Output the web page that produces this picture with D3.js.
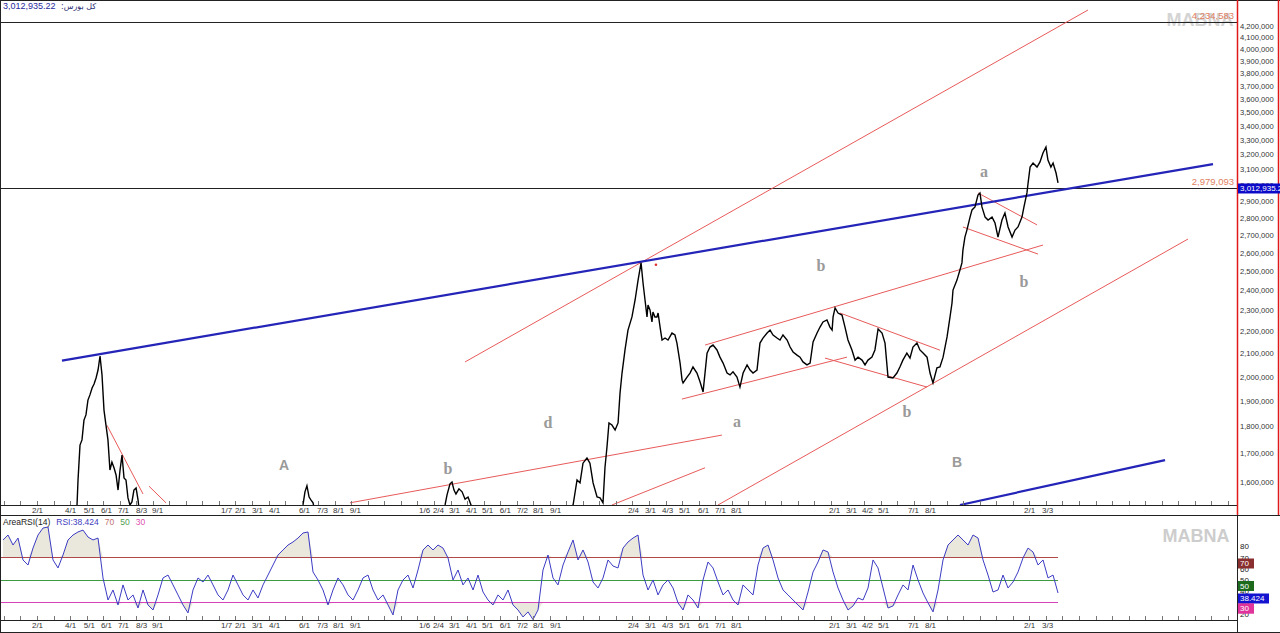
<!DOCTYPE html>
<html><head><meta charset="utf-8">
<script src="https://cdn.jsdelivr.net/npm/d3@7"></script>
<style>body{margin:0;background:#fff;overflow:hidden}svg{display:block}</style>
</head><body>
<svg id="c" width="1280" height="633"></svg>
<script>
// ---------------- DATA ----------------
const indexName = "کل بورس";
const lastValueText = "3,012,935.22";
// months since Farvardin 1399 (fractional), and TEDPIX values
const priceMonth = [
 -1.24,-0.5,0.3,1.0,1.8,2.5,3.0,3.3,3.42,3.48,
 3.60,3.72,3.84,3.96,4.08,4.20,4.33,4.45,4.57,4.69,
 4.81,4.93,5.05,5.17,5.29,5.41,5.53,5.66,5.78,5.90,
 6.02,6.14,6.26,6.38,6.50,6.62,6.74,6.86,6.99,7.11,
 7.23,7.6,8.0,8.5,9.0,9.5,10.0,10.5,11.0,11.5,
 12.3,13.0,13.8,14.5,15.2,16.0,16.6,17.08,17.20,17.32,
 17.45,17.57,17.69,17.85,18.6,19.3,20.0,20.8,21.5,22.3,
 23.0,23.8,24.5,25.3,25.67,25.79,25.97,26.09,26.21,26.33,
 26.51,26.70,26.88,27.06,27.24,27.6,28.2,28.9,29.6,30.3,
 31.0,31.8,32.5,33.1,33.41,33.65,33.83,34.01,34.25,34.43,
 34.62,34.86,35.04,35.22,35.34,35.46,35.58,35.76,35.95,36.13,
 36.25,36.37,36.55,36.73,36.97,37.16,37.34,37.52,37.64,37.76,
 37.88,37.94,38.06,38.18,38.24,38.36,38.48,38.55,38.67,38.79,
 38.97,39.15,39.39,39.57,39.69,39.88,40.00,40.06,40.30,40.48,
 40.66,40.90,41.09,41.27,41.51,41.69,41.87,42.11,42.29,42.48,
 42.72,42.90,43.08,43.32,43.50,43.69,43.93,44.11,44.29,44.53,
 44.71,44.89,45.14,45.32,45.50,45.74,45.92,46.10,46.35,46.53,
 46.71,46.95,47.13,47.31,47.55,47.74,47.92,48.16,48.34,48.52,
 48.76,48.94,49.07,49.13,49.25,49.43,49.67,49.85,50.03,50.27,
 50.46,50.64,50.88,51.06,51.24,51.48,51.66,51.85,52.09,52.27,
 52.45,52.75,52.99,53.17,53.35,53.59,53.78,53.96,54.20,54.38,
 54.57,54.81,54.99,55.17,55.41,55.59,55.78,56.02,56.20,56.32,
 56.38,56.62,56.80,56.92,56.98,57.10,57.22,57.41,57.53,57.71,
 57.89,58.01,58.13,58.32,58.50,58.74,58.92,59.10,59.34,59.52,
 59.71,59.95,60.13,60.31,60.55,60.67,60.85,60.92,61.04,61.22,
 61.46,61.64,61.82,62.00,62.12,62.30,62.43,62.61,62.73
];
const priceValue = [
 520000,600000,780000,900000,1080000,1260000,1400000,1480000,1524000,1607000,
 1730000,1749000,1824000,1844000,1903000,1924000,1952000,1969000,1994000,2028000,
 2089000,2007000,1863000,1805000,1749000,1641000,1669000,1648000,1624000,1573000,
 1641000,1694000,1614000,1607000,1547000,1524000,1534000,1573000,1580000,1540000,
 1480000,1350000,1250000,1200000,1300000,1450000,1380000,1250000,1200000,1150000,
 1180000,1250000,1150000,1200000,1300000,1420000,1490000,1524000,1567000,1587000,
 1550000,1540000,1531000,1490000,1400000,1350000,1400000,1380000,1300000,1330000,
 1350000,1400000,1420000,1490000,1524000,1557000,1594000,1600000,1573000,1560000,
 1577000,1567000,1543000,1550000,1524000,1450000,1400000,1330000,1300000,1260000,
 1280000,1350000,1420000,1480000,1524000,1607000,1597000,1665000,1683000,1665000,
 1597000,1550000,1547000,1531000,1651000,1723000,1813000,1805000,1786000,1813000,
 1932000,2015000,2116000,2207000,2269000,2352000,2453000,2544000,2438000,2352000,
 2269000,2327000,2303000,2245000,2293000,2269000,2269000,2288000,2221000,2161000,
 2170000,2161000,2193000,2184000,2147000,2058000,1985000,1973000,1998000,2015000,
 2041000,2015000,1977000,1936000,2102000,2129000,2138000,2116000,2084000,2058000,
 2015000,2007000,2020000,1998000,1956000,2015000,2050000,2028000,2015000,2028000,
 2147000,2170000,2193000,2207000,2184000,2170000,2161000,2184000,2161000,2129000,
 2107000,2093000,2084000,2063000,2050000,2058000,2152000,2193000,2221000,2245000,
 2255000,2221000,2207000,2269000,2313000,2288000,2278000,2221000,2161000,2116000,
 2071000,2084000,2071000,2050000,2071000,2084000,2116000,2212000,2193000,2147000,
 1998000,1994000,2015000,2041000,2071000,2102000,2080000,2129000,2147000,2116000,
 2102000,2084000,2015000,1973000,2037000,2041000,2084000,2175000,2269000,2337000,
 2402000,2453000,2506000,2544000,2614000,2687000,2727000,2803000,2846000,2864000,
 2937000,2950000,2864000,2803000,2786000,2803000,2768000,2687000,2786000,2827000,
 2745000,2687000,2727000,2745000,2803000,2864000,2950000,3013000,3116000,3143000,
 3116000,3150000,3210000,3251000,3163000,3116000,3143000,3077000,3012935
];
// RSI(14), weekly samples
const rsiStartMonth = -1.0556;
const rsiStepMonth = 0.3023;
const rsiValue = [
 85.6,90.0,81.1,87.3,67.8,63.3,78.4,90.0,96.2,97.1,
 67.8,60.7,72.2,85.6,90.0,92.7,94.4,88.2,85.6,87.3,
 51.8,32.2,41.1,27.8,45.6,32.2,36.7,25.1,41.1,27.8,
 23.3,36.7,51.8,54.4,45.6,36.7,27.8,20.7,41.1,51.8,
 48.2,54.4,45.6,36.7,32.2,41.1,54.4,45.6,36.7,32.2,
 41.1,34.0,45.6,54.4,63.3,72.2,76.7,81.1,83.8,87.3,
 91.8,92.7,57.1,50.0,41.1,27.8,41.1,51.8,45.6,36.7,
 32.2,41.1,51.8,54.4,41.1,32.2,36.7,27.8,18.9,41.1,
 50.0,54.4,42.9,58.9,76.7,81.1,76.7,81.1,78.4,69.6,
 50.0,58.9,45.6,51.8,41.1,54.4,39.3,32.2,27.8,36.7,
 32.2,41.1,27.8,23.3,17.1,21.6,14.8,23.3,58.9,72.2,
 51.8,45.6,63.3,74.9,85.6,67.8,76.7,66.0,48.2,42.9,
 51.8,67.8,62.4,60.7,78.4,83.8,87.3,90.0,54.4,41.1,
 50.0,36.7,45.6,50.0,42.9,29.6,23.3,36.7,32.2,25.1,
 50.0,66.0,60.7,48.2,36.7,41.1,32.2,27.8,45.6,41.1,
 36.7,63.3,78.4,81.1,67.8,51.8,41.1,36.7,32.2,27.8,
 23.3,39.3,57.1,66.0,76.7,74.9,57.1,42.9,32.2,23.3,
 26.9,34.0,32.2,42.9,67.8,60.7,42.9,25.1,26.9,36.7,
 45.6,41.1,63.3,50.0,38.4,29.6,21.6,41.1,67.8,81.1,
 85.6,90.0,85.6,81.1,90.0,87.3,67.8,54.4,39.3,41.1,
 54.4,42.9,48.2,57.1,69.6,78.4,74.9,63.3,67.8,51.8,
 54.4,38.424
];
const rsiLevels = [70, 50, 30];
const rsiTicks = [20, 30, 40, 50, 60, 70, 80];
const priceTicks = [1600000,1700000,1800000,1900000,2000000,2100000,2200000,2300000,2400000,2500000,
 2600000,2700000,2800000,2900000,3000000,3100000,3200000,3300000,3400000,3500000,3600000,3700000,
 3800000,3900000,4000000,4100000,4200000];
const levelValues = [4234583, 2979093];
const levelLabels = ["4,234,583", "2,979,093"];
const axisMonth = [1.00,3.00,4.14,5.17,6.20,7.29,8.26,12.43,13.27,14.30,15.33,17.14,18.23,19.20,20.22,
 24.40,25.24,26.21,27.24,28.21,29.29,30.32,31.29,32.32,37.03,38.06,39.09,40.12,41.27,42.29,43.26,
 49.19,50.21,51.18,52.15,53.96,54.99,60.98,62.07];
const axisLabel = ["2/1","4/1","5/1","6/1","7/1","8/3","9/1","1/7","2/1","3/1","4/1","6/1","7/3","8/1","9/1",
 "1/6","2/4","3/1","4/1","5/1","6/1","7/2","8/1","9/1","2/4","3/1","4/3","5/1","6/1","7/1","8/1",
 "2/1","3/1","4/2","5/1","7/1","8/1","2/1","3/3"];
// trend lines: [month1, value1, month2, value2]
const blueLines = [
 [2.51, 2069000, 72.10, 3136000],
 [56.80, 1524000, 69.20, 1676000]
];
const redLines = [
 [26.88, 2063000, 64.54, 4345000],
 [5.23, 1804000, 7.41, 1560000],
 [7.77, 1586000, 8.80, 1531000],
 [19.92, 1531000, 42.41, 1767000],
 [35.76, 1524000, 41.39, 1649000],
 [42.17, 1524000, 70.59, 2676000],
 [41.39, 2138000, 61.82, 2642000],
 [39.99, 1907000, 49.97, 2084000],
 [49.55, 2288000, 55.59, 2115000],
 [48.64, 2080000, 54.81, 1956000],
 [57.89, 2950000, 61.46, 2757000],
 [56.98, 2745000, 61.52, 2592000]
];
const waveText = ["A","b","d","a","b","b","B","a","b"];
const waveMonth = [15.93, 25.85, 31.89, 43.32, 48.40, 53.60, 56.62, 58.25, 60.67];
const waveValue = [1658000, 1648000, 1813000, 1817000, 2528000, 1859000, 1669000, 3090000, 2448000];
const markMonth = [38.42], markValue = [2534000];

// ---------------- CHART ----------------
const SANS = '"Liberation Sans", Arial, sans-serif';
const SERIF = '"Liberation Serif", "DejaVu Serif", serif';
const PR = 1237;
const svg = d3.select("#c");
const x = d3.scaleLinear().domain([-1.237, 73.55]).range([0, PR]);
const yP = d3.scaleLog().domain([1524000, 4438000]).range([505, 0]);
const yR = d3.scaleLinear().domain([14.4, 107.8]).range([620, 515]);

svg.append("rect").attr("width", 1280).attr("height", 633).attr("fill", "#fff");
const defs = svg.append("defs");
defs.append("clipPath").attr("id", "cm").append("rect").attr("x", 0).attr("y", 0).attr("width", PR).attr("height", 505);
defs.append("clipPath").attr("id", "cr").append("rect").attr("x", 0).attr("y", 516).attr("width", PR).attr("height", 104);

// watermarks
svg.append("text").attr("x", 1200).attr("y", 26).attr("text-anchor", "middle")
  .attr("font-family", SANS).attr("font-weight", "bold").attr("font-size", 18).attr("fill", "#d4d4d4").text("MABNA");
svg.append("text").attr("x", 1196).attr("y", 542).attr("text-anchor", "middle")
  .attr("font-family", SANS).attr("font-weight", "bold").attr("font-size", 18).attr("fill", "#cdcdcd").text("MABNA");

const main = svg.append("g").attr("clip-path", "url(#cm)");
// horizontal levels
main.selectAll(".lvl").data(levelValues).join("line")
  .attr("x1", 0).attr("x2", PR).attr("y1", d => Math.round(yP(d)) + 0.5).attr("y2", d => Math.round(yP(d)) + 0.5)
  .attr("stroke", "#222").attr("stroke-width", 1);
// red trend lines
main.selectAll(".rl").data(redLines).join("line")
  .attr("x1", d => x(d[0])).attr("y1", d => yP(d[1])).attr("x2", d => x(d[2])).attr("y2", d => yP(d[3]))
  .attr("stroke", "#e85a5a").attr("stroke-width", 1);
// blue trend lines
main.selectAll(".bl").data(blueLines).join("line")
  .attr("x1", d => x(d[0])).attr("y1", d => yP(d[1])).attr("x2", d => x(d[2])).attr("y2", d => yP(d[3]))
  .attr("stroke", "#2424b8").attr("stroke-width", 2.2);
// price
const idx = d3.range(priceMonth.length);
main.append("path")
  .attr("d", d3.line().x(i => x(priceMonth[i])).y(i => yP(priceValue[i]))(idx))
  .attr("fill", "none").attr("stroke", "#000").attr("stroke-width", 1.4);
main.selectAll(".mk").data(markMonth).join("circle")
  .attr("cx", (d, i) => x(d)).attr("cy", (d, i) => yP(markValue[i])).attr("r", 1.3).attr("fill", "#e03030");
// wave labels
main.selectAll(".wv").data(waveText).join("text")
  .attr("x", (d, i) => x(waveMonth[i])).attr("y", (d, i) => yP(waveValue[i]))
  .attr("text-anchor", "middle").attr("dominant-baseline", "central")
  .attr("font-family", d => (d === "A" || d === "B") ? SANS : SERIF)
  .attr("font-weight", "bold").attr("font-size", d => (d === "A" || d === "B") ? 14 : 16)
  .attr("fill", "#9a9a9a").text(d => d);

// level labels
svg.selectAll(".ll").data(levelValues).join("text")
  .attr("x", PR - 3).attr("y", d => yP(d) - 3).attr("text-anchor", "end")
  .attr("font-family", SANS).attr("font-size", 9.5).attr("fill", "#e0805f")
  .text((d, i) => levelLabels[i]);

// title
svg.append("text").attr("x", 3).attr("y", 9).attr("font-family", SANS).attr("font-size", 9)
  .attr("fill", "#2a2aa0").text(lastValueText);
svg.append("text").attr("x", 61).attr("y", 9).attr("font-family", '"DejaVu Sans", sans-serif').attr("font-size", 8)
  .attr("fill", "#2a2a70").text(":" + indexName);

// ---------------- RSI ----------------
const rsiG = svg.append("g").attr("clip-path", "url(#cr)");
const ri = d3.range(rsiValue.length);
const rx = i => x(rsiStartMonth + i * rsiStepMonth);
rsiG.append("path").attr("d", d3.area().x(rx).y0(yR(70)).y1(i => yR(Math.max(rsiValue[i], 70)))(ri))
  .attr("fill", "#eae8dc");
rsiG.append("path").attr("d", d3.area().x(rx).y0(yR(30)).y1(i => yR(Math.min(rsiValue[i], 30)))(ri))
  .attr("fill", "#eae8dc");
const lvlColors = ["#b04848", "#3e9a3e", "#d444b8"];
rsiG.selectAll(".rlv").data(rsiLevels).join("line")
  .attr("x1", 0).attr("x2", rx(rsiValue.length - 1))
  .attr("y1", d => Math.round(yR(d)) + 0.5).attr("y2", d => Math.round(yR(d)) + 0.5)
  .attr("stroke", (d, i) => lvlColors[i]).attr("stroke-width", 1);
rsiG.append("path").attr("d", d3.line().x(rx).y(i => yR(rsiValue[i]))(ri))
  .attr("fill", "none").attr("stroke", "#3c3cc4").attr("stroke-width", 1);

// RSI legend
const leg = svg.append("text").attr("x", 3).attr("y", 525).attr("font-family", SANS).attr("font-size", 8.5);
leg.append("tspan").attr("fill", "#222").text("AreaRSI(14)");
leg.append("tspan").attr("dx", 6).attr("fill", "#4040c0").text("RSI:" + rsiValue[rsiValue.length - 1]);
leg.append("tspan").attr("dx", 6).attr("fill", "#c07070").text(rsiLevels[0]);
leg.append("tspan").attr("dx", 6).attr("fill", "#50a050").text(rsiLevels[1]);
leg.append("tspan").attr("dx", 6).attr("fill", "#e050b0").text(rsiLevels[2]);

// ---------------- AXES ----------------
const pAxis = svg.append("g").attr("transform", `translate(${PR},0)`)
  .call(d3.axisRight(yP).tickValues(priceTicks).tickFormat(d3.format(",")).tickSize(0).tickPadding(3));
pAxis.select(".domain").remove();
pAxis.selectAll("text").attr("font-family", SANS).attr("font-size", 7.6).attr("fill", "#333");

const rAxis = svg.append("g").attr("transform", `translate(${PR},0)`)
  .call(d3.axisRight(yR).tickValues(rsiTicks).tickSize(0).tickPadding(3));
rAxis.select(".domain").remove();
rAxis.selectAll("text").attr("font-family", SANS).attr("font-size", 8).attr("fill", "#222");

function bottomAxis(y0) {
  const g = svg.append("g").attr("transform", `translate(0,${y0})`)
    .call(d3.axisBottom(x).tickValues(axisMonth).tickFormat((d, i) => axisLabel[i]).tickSize(0).tickPadding(2));
  g.select(".domain").remove();
  g.selectAll("text").attr("font-family", SANS).attr("font-size", 8).attr("fill", "#333");
  svg.selectAll(null).data(d3.range(-1, 74)).join("line")
    .attr("x1", d => Math.round(x(d)) + 0.5).attr("x2", d => Math.round(x(d)) + 0.5)
    .attr("y1", y0 - 4).attr("y2", y0).attr("stroke", "#777").attr("stroke-width", 1);
}
bottomAxis(505);
bottomAxis(620);

// frames
const hl = (x1, x2, y, c) => svg.append("line").attr("x1", x1).attr("x2", x2).attr("y1", y).attr("y2", y).attr("stroke", c).attr("stroke-width", 1);
const vl = (xx, y1, y2, c, w) => svg.append("line").attr("x1", xx).attr("x2", xx).attr("y1", y1).attr("y2", y2).attr("stroke", c).attr("stroke-width", w || 1);
hl(0, 1280, 0.5, "#222");
hl(0, PR, 505.5, "#222");
hl(0, 1280, 515.5, "#222");
hl(0, PR, 620.5, "#222");
hl(0, 1280, 632.5, "#222");
vl(0.5, 0, 633, "#222");
vl(PR + 0.5, 515, 633, "#222");
vl(PR + 0.5, 0, 515, "#e01818", 1.5);
vl(1278.5, 0, 515, "#e01818", 1.5);

// value boxes
function box(yTop, w, fill, label) {
  svg.append("rect").attr("x", PR + 1).attr("y", yTop).attr("width", w).attr("height", 10).attr("fill", fill);
  svg.append("text").attr("x", PR + 3).attr("y", yTop + 7.8).attr("font-family", SANS).attr("font-size", 8)
    .attr("fill", "#fff").text(label);
}
const lastP = priceValue[priceValue.length - 1];
box(yP(lastP) + 0.5, 42, "#0a0ac8", d3.format(",")(lastP) + ".2");
const boxColors = ["#8a2f2f", "#1d6a1d", "#e0349c"];
rsiLevels.forEach((v, i) => box(yR(v) + 1, 16, boxColors[i], v));
const lastR = rsiValue[rsiValue.length - 1];
box(yR(lastR) + 0.5, 31, "#1414d0", lastR);
box(yR(30) + 1, 16, boxColors[2], 30);
</script>
</body></html>
